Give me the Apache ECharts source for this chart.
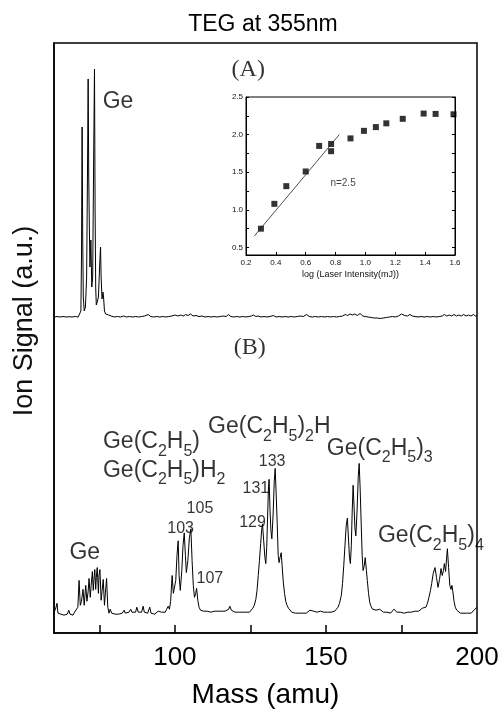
<!DOCTYPE html>
<html><head><meta charset="utf-8">
<script src="https://cdn.jsdelivr.net/npm/echarts/dist/echarts.min.js"></script>
<style>html,body{margin:0;padding:0;background:#fff}#c{width:503px;height:714px}</style>
</head><body><div id="c"></div>
<script>
// ---------- data ----------
const massTicks = [75, 100, 125, 150, 175];
const massTickLabels = [100, 150, 200];

// Panel (A): spectrum, [mass (amu), ion signal (a.u.)]
const spectrumA = [
[60,0],[61,0.5],[62,0],[63,0.5],[64,0],[65,0.3],[66,0],[67,0.5],[68,0],[68.6,1],[68.9,6],[69.1,60],[69.3,190],[69.5,80],[69.7,20],[70.0,6],[70.4,10],[70.8,40],[71.1,150],[71.3,238],[71.5,140],[71.7,90],[71.9,50],[72.2,77],[72.5,30],[72.8,40],[73.1,150],[73.4,248],[73.6,110],[73.8,30],[74.0,12],[74.3,15],[74.7,20],[75.1,50],[75.4,70],[75.6,40],[75.9,18],[76.2,25],[76.4,20],[76.7,6],[77.1,3],[77.6,1],[78.1,2],[78.5,4],[78.9,1],[79.5,0.5],
[80,0],[81,0.5],[82,0],[83,1],[84,0],[85,0.5],[86,0],[87,0.5],[88,0],[89,0.5],[90,1],[91.2,2.5],[92,0.5],[93,0],[94,0.5],[95,0],[96,0.5],[97,0],[98,0.5],[99,1],[100,2],[101,1],[102,2],[102.8,1],[103.6,2.5],[104.4,1.5],[105.2,3],[106,1],[107,1.5],[108,0.5],[109,1],[110,0],[111,0.5],[112,0],[113,0.5],[114,0],[115,0.5],[116,1],[117,0.5],[117.7,2.5],[118.5,0.5],[119.5,0],[120.5,0.5],[121.5,0],[122.5,0.5],[123.5,0],[124.5,0.5],[125.3,1],[126,2],[126.8,0.5],[127.6,1],[128.5,0],[129.5,0.5],[130.5,0],[131.5,0.5],[132.6,1.5],[133.5,0],[134.5,0.5],[135.5,0],[136.5,0.5],[137.5,0],[138.5,0.5],[139.5,0],[140.5,0.5],[141.5,1],[142.5,0.5],[143.6,2.5],[144.5,0.5],[145.5,0],[146.5,0.5],[147.5,0],[148.5,0.5],[149.5,0],[150.5,0.5],[151.5,0],[152.5,0.5],[153.5,0],[154.5,0.5],[155.5,1],[156.4,2.5],[157.2,1.5],[158.0,3],[158.8,2],[159.6,3],[160.4,1.5],[161.3,3.5],[162.2,1],[163,0.5],[164,0],[165,-0.5],[166,-1],[167,-1],[168,-1.5],[169,-1],[170,-0.5],[171,0],[172,0.5],[173,0],[174,1],[175,3],[176,1.5],[177,1],[177.8,2.5],[178.6,1],[179.5,0.5],[180.5,0],[181.5,0.5],[182.5,0],[183.5,0.5],[184.5,0],[185.5,0.5],[186.5,0],[187.5,0.5],[188.5,1],[189.2,2.5],[190,1],[190.8,2],[191.6,1],[192.4,2.5],[193.2,1],[194,2],[194.8,1],[195.6,2.5],[196.4,1],[197.2,2],[198,1],[198.8,2.5],[199.5,1],[200,1]
];

// Panel (B): spectrum, [mass (amu), ion signal (a.u.)]
const spectrumB = [
[60,3],[60.5,6],[61.0,12],[61.3,2],[61.8,4],[62.3,1],[62.8,3],[63.3,0],[63.8,2],[64.4,1],[64.9,5],[65.3,1],[65.8,2],[66.3,0],[66.8,3],[67.4,4],[67.9,8],
[68.3,35],[68.7,10],[69.1,14],[69.6,26],[70.0,10],[70.5,30],[70.9,14],[71.3,24],[71.6,37],[72.0,18],[72.3,30],[72.7,44],[73.0,25],[73.2,35],[73.5,46],[73.8,26],[74.0,38],[74.3,48],[74.7,22],[74.9,40],[75.2,46],[75.6,15],[75.9,24],[76.3,36],[76.7,10],[77.0,22],[77.4,37],[77.8,8],[78.2,2],[78.6,6],[79.1,2],[79.6,3],
[80.2,1],[80.8,2],[81.4,1],[82.0,3],[82.6,2],[83.2,5],[83.6,2],[84.2,4],[84.8,3],[85.4,6],[85.8,3],[86.4,5],[87.0,3],[87.4,8],[87.9,3],[88.5,5],[89.0,3],[89.5,9],[89.9,3],[90.5,4],[91.0,2],[91.7,8],[92.1,2],[92.7,3],[93.3,1],[93.9,2],[94.5,4],[95.0,2],[95.6,3],[96.2,4],[96.8,3],[97.3,6],[97.8,9],[98.2,6],
[98.6,14],[99.1,40],[99.5,22],[99.9,20],[100.3,35],[100.7,60],[101.1,75],[101.4,40],[101.8,25],[102.3,45],[102.7,70],[103.1,83],[103.5,60],[103.8,43],[104.3,55],[104.8,78],[105.3,87],[105.7,55],[106.1,30],[106.5,18],[106.9,22],[107.2,27],[107.6,15],[108.0,8],[108.5,5],[109.0,6],[109.5,4],[110.1,5],[110.7,4],[111.3,4],[111.9,3],[112.5,3],[113.1,4],[113.7,3],[114.3,4],[114.9,6],[115.4,4],[116.0,3],[116.6,4],[117.2,3],[117.8,6],[118.2,9],[118.7,5],[119.3,4],[119.9,3],[120.5,2],[121.1,3],[121.7,2],[122.3,3],[122.9,2],[123.5,3],[124.1,4],[124.7,3],[125.3,5],[125.8,7],[126.3,10],[126.8,16],[127.2,25],[127.6,40],[128.0,55],[128.4,72],[128.7,85],[129.0,92],[129.4,75],[129.8,58],[130.1,52],[130.4,68],[130.7,100],[131.0,130],[131.2,137],[131.5,105],[131.8,85],[132.1,77],[132.5,100],[132.9,135],[133.2,148],[133.5,125],[133.9,90],[134.2,60],[134.5,53],[134.8,58],[135.2,63],[135.5,50],[135.9,33],[136.3,22],[136.7,14],[137.1,10],[137.6,7],[138.1,5],[138.7,3],[139.3,3],[139.9,2],[140.5,3],[141.1,2],[141.7,4],[142.3,2],[142.9,3],[143.5,2],[144.1,3],[144.7,5],[145.3,3],[145.9,4],[146.4,2],[147.0,3],[147.6,2],[148.2,4],[148.8,6],[149.3,3],[149.9,2],[150.5,3],[151.1,2],[151.7,3],[152.3,4],[152.9,4],[153.5,6],[154.0,8],[154.5,12],[155.1,20],[155.5,32],[155.9,50],[156.3,70],[156.7,90],[157.1,98],[157.5,75],[157.8,58],[158.1,52],[158.4,70],[158.7,105],[159.0,131],[159.3,110],[159.6,88],[159.9,80],[160.3,105],[160.7,140],[161.0,153],[161.3,130],[161.7,90],[162.0,60],[162.3,45],[162.7,50],[163.0,58],[163.4,45],[163.7,35],[164.1,22],[164.5,13],[164.9,9],[165.4,6],[166.0,4],[166.6,5],[167.2,3],[167.8,6],[168.4,4],[169.0,3],[169.6,2],[170.2,3],[170.8,2],[171.4,2],[172.0,3],[172.5,6],[173.0,7],[173.5,3],[174.1,2],[174.7,3],[175.3,2],[175.9,2],[176.5,3],[177.1,3],[177.7,4],[178.3,3],[178.9,4],[179.5,4],[180.1,3],[180.7,4],[181.3,6],[181.9,7],[182.5,6],[183.1,8],[183.6,12],[184.1,18],[184.6,25],[185.0,32],[185.5,42],[186.1,48],[186.6,38],[187.1,28],[187.6,36],[188.1,47],[188.5,40],[188.9,45],[189.2,52],[189.6,44],[190.2,67],[190.6,48],[191.0,30],[191.4,26],[191.7,30],[192.0,24],[192.4,14],[192.8,8],[193.3,5],[193.9,3],[194.5,2],[195.1,1],[195.7,2],[196.3,1],[196.9,2],[197.5,1],[198.1,2],[198.7,3],[199.3,6],[200,8]
];

// Inset: log(laser intensity) vs log(signal)
const insetLogI   = [0.30, 0.39, 0.47, 0.60, 0.69, 0.77, 0.77, 0.90, 0.99, 1.07, 1.14, 1.25, 1.39, 1.47, 1.59];
const insetSignal = [0.75, 1.08, 1.315, 1.51, 1.85, 1.875, 1.78, 1.95, 2.05, 2.10, 2.15, 2.21, 2.28, 2.275, 2.27];
const fitLine = [[0.255, 0.65], [0.825, 2.0]];
const insetYLabelValues = [0.5, 1.0, 1.5, 2.0, 2.5];
const insetYTickValues = [0.5, 0.75, 1.0, 1.25, 1.5, 1.75, 2.0, 2.25, 2.5];

// ---------- chart ----------
const SANS = 'Liberation Sans, Arial, Helvetica, sans-serif';
const SERIF = 'Liberation Serif, Times New Roman, serif';

function chem(s) {
  return s.split(/_(\d)/).map((p, i) => p === '' ? '' : (i % 2 ? '{s|' + p + '}' : '{m|' + p + '}')).join('');
}
const rich = {
  m: {fontFamily: SANS, fontSize: 23, color: '#000', lineHeight: 29, verticalAlign: 'top'},
  s: {fontFamily: SANS, fontSize: 16, color: '#000', lineHeight: 29, verticalAlign: 'bottom'},
  n: {fontFamily: SANS, fontSize: 16, color: '#000', lineHeight: 20},
  p: {fontFamily: SERIF, fontSize: 24, color: '#000', lineHeight: 28}
};
function ann(text, x, y, anchor, style) {
  let f, dy = 0;
  if (style === 'n') { f = '{n|' + text + '}'; dy = 5; }
  else if (style === 'p') { f = '{p|' + text + '}'; dy = 2; }
  else { f = chem(text); dy = 5; }
  return {
    value: [x, y],
    label: {
      formatter: f,
      position: anchor === 'l' ? 'right' : 'inside',
      distance: 0,
      offset: [0, dy]
    }
  };
}
const annB = [
  ann('Ge', 70.2, 65, 'c'),
  ann('Ge(C_2H_5)', 76.2, 177, 'l'),
  ann('Ge(C_2H_5)H_2', 76.2, 148, 'l'),
  ann('Ge(C_2H_5)_2H', 111.0, 192, 'l'),
  ann('Ge(C_2H_5)_3', 150.3, 170, 'l'),
  ann('Ge(C_2H_5)_4', 167.2, 82, 'l'),
  ann('103', 101.9, 92, 'c', 'n'),
  ann('105', 108.3, 112, 'c', 'n'),
  ann('107', 111.6, 42, 'c', 'n'),
  ann('129', 125.7, 98, 'c', 'n'),
  ann('131', 126.8, 133, 'c', 'n'),
  ann('133', 132.2, 160, 'c', 'n'),
  ann('(B)', 124.8, 272, 'c', 'p')
];
const annA = [
  ann('Ge', 76.1, 217, 'l'),
  ann('(A)', 124.3, 249, 'c', 'p')
];

const chart = echarts.init(document.getElementById('c'), null, {renderer: 'canvas'});
chart.setOption({
  animation: false,
  backgroundColor: '#fff',
  graphic: [
    {type: 'text', x: 263, y: 25, style: {text: 'TEG at 355nm', font: '23px ' + SANS, fill: '#000', align: 'center', verticalAlign: 'middle'}},
    {type: 'text', x: 25, y: 321, rotation: Math.PI / 2, style: {text: 'Ion Signal (a.u.)', font: '27px ' + SANS, fill: '#111', align: 'center', verticalAlign: 'middle'}}
  ],
  grid: [
    {left: 54, right: 26, top: 43, bottom: 76, show: true, borderColor: '#000', borderWidth: 1.5, backgroundColor: 'transparent'},
    {left: 54, right: 26, top: 43, bottom: 387},
    {left: 246, right: 48, top: 97, bottom: 459, show: true, borderColor: '#000', borderWidth: 1, backgroundColor: '#fff'}
  ],
  xAxis: [
    {gridIndex: 0, type: 'value', min: 60, max: 200,
      axisLine: {show: true, onZero: false, lineStyle: {color: '#000', width: 1.5}},
      axisTick: {show: true, inside: true, length: 8, customValues: massTicks, lineStyle: {color: '#000', width: 1.5}},
      axisLabel: {customValues: massTickLabels, showMaxLabel: true, fontSize: 26, fontFamily: SANS, color: '#000', margin: 12},
      splitLine: {show: false},
      name: 'Mass (amu)', nameLocation: 'middle', nameGap: 48,
      nameTextStyle: {fontSize: 28, fontFamily: SANS, color: '#000'}},
    {gridIndex: 1, type: 'value', min: 60, max: 200, show: false},
    {gridIndex: 2, type: 'value', min: 0.2, max: 1.6, interval: 0.2,
      axisLine: {show: true, onZero: false, lineStyle: {color: '#000', width: 1}},
      axisTick: {inside: true, length: 3, lineStyle: {color: '#000'}},
      axisLabel: {fontSize: 8, fontFamily: SANS, color: '#111', margin: 4, formatter: v => v.toFixed(1)},
      splitLine: {show: false},
      name: 'log (Laser Intensity(mJ))', nameLocation: 'middle', nameGap: 15,
      nameTextStyle: {fontSize: 9, fontFamily: SANS, color: '#111'}}
  ],
  yAxis: [
    {gridIndex: 0, type: 'value', min: -18, max: 577,
      axisLine: {show: true, onZero: false, lineStyle: {color: '#000', width: 1.5}},
      axisTick: {show: false}, axisLabel: {show: false}, splitLine: {show: false}},
    {gridIndex: 1, type: 'value', min: -10, max: 274, show: false},
    {gridIndex: 2, type: 'value', min: 0.4, max: 2.5,
      axisLine: {show: true, onZero: false, lineStyle: {color: '#000', width: 1}},
      axisTick: {inside: true, length: 3, customValues: insetYTickValues, lineStyle: {color: '#000'}},
      axisLabel: {customValues: insetYLabelValues, fontSize: 8, fontFamily: SANS, color: '#111', margin: 3, formatter: v => v.toFixed(1)},
      splitLine: {show: false}},
    {gridIndex: 2, type: 'value', min: 0.4, max: 2.5, position: 'right',
      axisLine: {show: true, onZero: false, lineStyle: {color: '#000', width: 1}},
      axisTick: {inside: true, length: 3, customValues: insetYTickValues, lineStyle: {color: '#000'}},
      axisLabel: {show: false}, splitLine: {show: false}}
  ],
  series: [
    {type: 'line', xAxisIndex: 0, yAxisIndex: 0, data: spectrumB, showSymbol: false, symbol: 'none',
      lineStyle: {color: '#000', width: 1}, silent: true},
    {type: 'line', xAxisIndex: 1, yAxisIndex: 1, data: spectrumA, showSymbol: false, symbol: 'none',
      lineStyle: {color: '#000', width: 1}, silent: true},
    {type: 'line', xAxisIndex: 2, yAxisIndex: 2, data: fitLine, showSymbol: false, symbol: 'none',
      lineStyle: {color: '#222', width: 0.8}, silent: true},
    {type: 'scatter', xAxisIndex: 2, yAxisIndex: 2, symbol: 'rect', symbolSize: 6,
      itemStyle: {color: '#000'}, data: insetLogI.map((x, i) => [x, insetSignal[i]])},
    {type: 'scatter', xAxisIndex: 2, yAxisIndex: 2, symbolSize: 0, silent: true,
      data: [{value: [0.85, 1.355], label: {show: true, formatter: 'n=2.5', position: 'inside', fontSize: 10, fontFamily: SANS, color: '#111'}}]},
    {type: 'scatter', xAxisIndex: 0, yAxisIndex: 0, symbolSize: 0, silent: true, z: 10,
      label: {show: true, color: '#000', rich: rich}, data: annB},
    {type: 'scatter', xAxisIndex: 1, yAxisIndex: 1, symbolSize: 0, silent: true, z: 10,
      label: {show: true, color: '#000', rich: rich}, data: annA}
  ]
});
</script></body></html>
